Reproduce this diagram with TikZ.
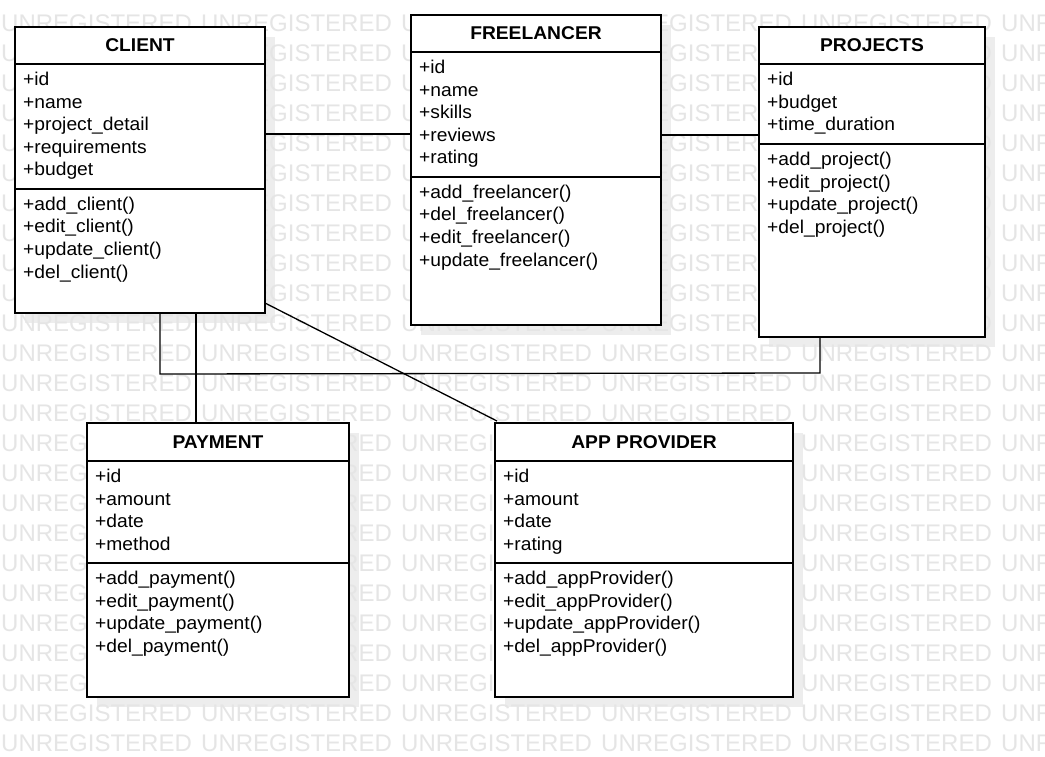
\documentclass[tikz,border=0pt]{standalone}
\usepackage{fontspec}
\setmainfont{Liberation Sans}[FakeStretch=1.04]
\newfontfamily\wmfont{Liberation Sans}
\begin{document}
\begin{tikzpicture}[x=1pt,y=-1pt]
\tikzset{
  box/.style={draw=black, line width=1.5pt, fill=white, inner sep=0pt, outer sep=0pt, anchor=north west},
  shadowfill/.style={fill=black!7, draw=none},
  sepline/.style={draw=black, line width=1.5pt},
  titletext/.style={font=\bfseries\fontsize{18.5}{22}\selectfont, anchor=base, inner sep=0pt},
  member/.style={font=\fontsize{18.5}{22}\selectfont, anchor=base west, inner sep=0pt},
  conn/.style={draw=black, line width=1.3pt},
  wm/.style={font=\wmfont\fontsize{24}{28}\selectfont, text=black!10, anchor=base west, inner sep=0pt}
}
\newcommand\memberlist[4]{%
  \foreach \t [count=\i] in {#4} {
    \node[member] (#1\i) at (#2, #3+22.5*\i-22.5) {\t};
  }}
\useasboundingbox (0,0) rectangle (1045,757);
\fill[white] (0,0) rectangle (1045,757);
% shadows
\fill[shadowfill] (25,37) rectangle (275,323);
\fill[shadowfill] (421,25) rectangle (671,335);
\fill[shadowfill] (769,37) rectangle (995,347);
\fill[shadowfill] (97,433) rectangle (359,707);
\fill[shadowfill] (505,433) rectangle (803,707);
% watermark
\begin{scope}
\clip (0,0) rectangle (1045,757);
\foreach \r in {0,...,24} {
  \foreach \c in {0,...,5} {
    \node[wm] (wm-\r-\c) at (200*\c+1, 31.5+30*\r) {UNREGISTERED};
  }
}
\end{scope}
% CLIENT
\node[box, minimum width=250pt, minimum height=286pt] (client) at (15,27) {};
\draw[sepline] (client.west |- 0,64) -- (client.east |- 0,64);
\draw[sepline] (client.west |- 0,189) -- (client.east |- 0,189);
\node[titletext] (client-t) at (140,52) {CLIENT};
\memberlist{client-a}{23}{86}{+id,+name,+project\_detail,+requirements,+budget}
\memberlist{client-m}{23}{210.5}{+add\_client(),+edit\_client(),+update\_client(),+del\_client()}
% FREELANCER
\node[box, minimum width=250pt, minimum height=310pt] (freelancer) at (411,15) {};
\draw[sepline] (freelancer.west |- 0,52) -- (freelancer.east |- 0,52);
\draw[sepline] (freelancer.west |- 0,177) -- (freelancer.east |- 0,177);
\node[titletext] (freelancer-t) at (536,40) {FREELANCER};
\memberlist{free-a}{419}{74}{+id,+name,+skills,+reviews,+rating}
\memberlist{free-m}{419}{198.5}{+add\_freelancer(),+del\_freelancer(),+edit\_freelancer(),+update\_freelancer()}
% PROJECTS
\node[box, minimum width=226pt, minimum height=310pt] (projects) at (759,27) {};
\draw[sepline] (projects.west |- 0,64) -- (projects.east |- 0,64);
\draw[sepline] (projects.west |- 0,144) -- (projects.east |- 0,144);
\node[titletext] (projects-t) at (872,52) {PROJECTS};
\memberlist{proj-a}{767}{86}{+id,+budget,+time\_duration}
\memberlist{proj-m}{767}{166}{+add\_project(),+edit\_project(),+update\_project(),+del\_project()}
% PAYMENT
\node[box, minimum width=262pt, minimum height=274pt] (payment) at (87,423) {};
\draw[sepline] (payment.west |- 0,461) -- (payment.east |- 0,461);
\draw[sepline] (payment.west |- 0,563) -- (payment.east |- 0,563);
\node[titletext] (payment-t) at (218,448.5) {PAYMENT};
\memberlist{pay-a}{95}{482.5}{+id,+amount,+date,+method}
\memberlist{pay-m}{95}{584.5}{+add\_payment(),+edit\_payment(),+update\_payment(),+del\_payment()}
% APP PROVIDER
\node[box, minimum width=298pt, minimum height=274pt] (appprov) at (495,423) {};
\draw[sepline] (appprov.west |- 0,461) -- (appprov.east |- 0,461);
\draw[sepline] (appprov.west |- 0,563) -- (appprov.east |- 0,563);
\node[titletext] (appprov-t) at (644,448.5) {APP PROVIDER};
\memberlist{app-a}{503}{482.5}{+id,+amount,+date,+rating}
\memberlist{app-m}{503}{584.5}{+add\_appProvider(),+edit\_appProvider(),+update\_appProvider(),+del\_appProvider()}
% connectors
\coordinate (j1) at (0,134);
\coordinate (j2) at (0,135);
\coordinate (j3) at (160,374);
\coordinate (j4) at (820,373);
\coordinate (j5) at (196,0);
\coordinate (j6) at (0,303);
\draw[conn] (client.east |- j1) -- (freelancer.west |- j1);
\draw[conn] (freelancer.east |- j2) -- (projects.west |- j2);
\draw[conn] (client.south -| j3) -- (j3) -- (j4) -- (projects.south -| j4);
\draw[conn] (client.south -| j5) -- (payment.north -| j5);
\draw[conn] (client.east |- j6) -- ([xshift=2pt,yshift=2pt]appprov.north west);
\end{tikzpicture}
\end{document}
